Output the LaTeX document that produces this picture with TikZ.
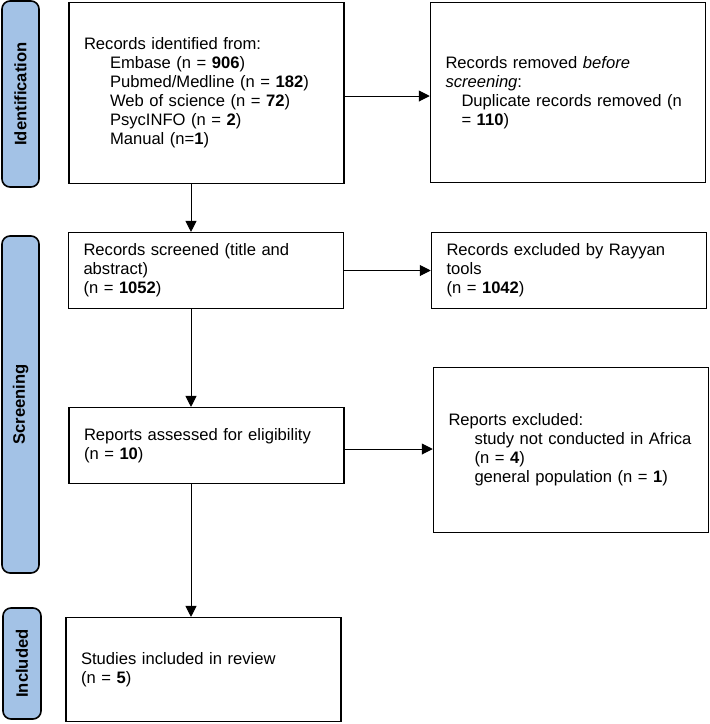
\documentclass[tikz,border=0pt]{standalone}
\usepackage{fontspec}
\setmainfont{Liberation Sans}
\usetikzlibrary{arrows.meta}
\definecolor{phaseblue}{RGB}{163,194,230}

\begin{document}
\begin{tikzpicture}[x=1pt,y=-1pt,
    box/.style={draw,line width=1.5pt,align=left,text width=245pt,
      inner xsep=15pt,inner ysep=0pt,font=\fontsize{16.6}{19}\selectfont},
    phase/.style={draw,line width=1.6pt,fill=phaseblue,rounded corners=8pt,
      rotate=90,inner sep=0pt,font=\fontsize{16.6}{19}\selectfont\bfseries},
    link/.style={line width=1pt,-{Triangle[length=11pt,width=11pt]}}]
  \useasboundingbox (0,0) rectangle (710,724);

  % Phase labels
  \node[phase,minimum width=186pt,minimum height=37pt] (identlab) at (20.5,94) {Identification};
  \node[phase,minimum width=337pt,minimum height=37pt] (screenlab) at (20.5,404.5) {Screening};
  \node[phase,minimum width=111pt,minimum height=38pt] (inclab) at (22,663.5) {Included};

  % Main column
  \node[box,minimum height=180.6pt] (identified) at (206.5,93) {Records identified from:\\
    \hspace*{26pt}Embase (n = \textbf{906})\\
    \hspace*{26pt}Pubmed/Medline (n = \textbf{182})\\
    \hspace*{26pt}Web of science (n = \textbf{72})\\
    \hspace*{26pt}PsycINFO (n = \textbf{2})\\
    \hspace*{26pt}Manual (n=\textbf{1})};
  \node[box,minimum height=75.6pt] (screened) at (206,270.5) {Records screened (title and\\
    abstract)\\
    (n = \textbf{1052})};
  \node[box,minimum height=75.6pt] (assessed) at (206.5,445.5) {Reports assessed for eligibility\\
    (n = \textbf{10})};
  \node[box,minimum height=103.6pt] (included) at (203.5,669.5) {Studies included in review\\
    (n = \textbf{5})};

  % Exclusions
  \node[box,minimum height=179.6pt] (removed) at (568,92.5) {Records removed \textit{before}\\
    \textit{screening}:\\
    \hspace*{16pt}Duplicate records removed (n\\
    \hspace*{16pt}= \textbf{110})};
  \node[box,minimum height=75.6pt] (rayyan) at (569,270.5) {Records excluded by Rayyan\\
    tools\\
    (n = \textbf{1042})};
  \node[box,minimum height=164.6pt] (excluded) at (571,450) {Reports excluded:\\
    \hspace*{26pt}study not conducted in Africa\\
    \hspace*{26pt}(n = \textbf{4})\\
    \hspace*{26pt}general population (n = \textbf{1})};

  % Arrows
  \draw[link] ([yshift=-3pt]identified.east) -- ([yshift=-3pt]identified.east -| removed.west);
  \draw[link] (screened.east) -- (screened.east -| rayyan.west);
  \draw[link] ([yshift=-3.5pt]assessed.east) -- ([yshift=-3.5pt]assessed.east -| excluded.west);
  \draw[link] ([xshift=-15.5pt]identified.south) -- ([xshift=-15.5pt]identified.south |- screened.north);
  \draw[link] ([xshift=-15pt]screened.south) -- ([xshift=-15pt]screened.south |- assessed.north);
  \draw[link] ([xshift=-15.5pt]assessed.south) -- ([xshift=-15.5pt]assessed.south |- included.north);
\end{tikzpicture}
\end{document}
